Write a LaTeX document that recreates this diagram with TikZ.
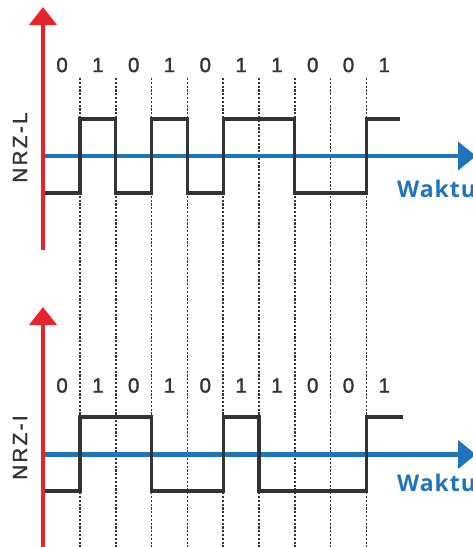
\documentclass[tikz,border=0pt]{standalone}
\usepackage{fontspec}
\setmainfont{Liberation Sans}
\newfontfamily\waktufont{Open Sans}
\usetikzlibrary{arrows.meta}
\definecolor{sigred}{HTML}{E6242A}
\definecolor{sigblue}{HTML}{1F74BD}
\definecolor{siggray}{HTML}{333333}
\tikzset{
  bitlabel/.style={font=\fontsize{20.5}{21}\selectfont\addfontfeature{FakeBold=1.6},text=siggray,inner sep=0pt},
  codelabel/.style={font=\fontsize{20.5}{21}\selectfont\addfontfeature{LetterSpace=12,FakeBold=1.6},text=siggray,rotate=90,inner sep=0pt},
  timelabel/.style={font=\waktufont\bfseries\fontsize{23}{23}\selectfont\addfontfeature{LetterSpace=4},text=sigblue,anchor=base west,inner sep=0pt},
  levelaxis/.style={sigred,line width=4pt,-{Triangle[width=27pt,length=18pt]}},
  timeaxis/.style={sigblue,line width=4.2pt,-{Triangle[width=28pt,length=18pt]}},
  signal/.style={siggray,line width=3.2pt,line join=miter},
  slotline/.style={siggray,line width=1.6pt,dash pattern=on 2.2pt off 1.6pt}
}
\begin{document}
\begin{tikzpicture}[x=1pt,y=-1pt,>=Latex]
\useasboundingbox (0,0) rectangle (472,547);
% bit boundaries, through both panels
\foreach \i in {1,...,9} \draw[slotline] ({44.2+35.8*\i},78) -- ({44.2+35.8*\i},547);
% NRZ-L
\begin{scope}
\coordinate (timL0) at (43,156); \coordinate (timL1) at (476,156);
\coordinate (levL0) at (43,250); \coordinate (levL1) at (43,7);
\draw[timeaxis] (timL0) -- (timL1);
\draw[signal] (45,193) -| (80,119) -| (115.8,193) -| (151.6,119) -| (187.4,193) -| (223.2,119) -| (294.8,193) -| (366.4,119) -- (400,119);
\draw[levelaxis] (levL0) -- (levL1);
\foreach \b [count=\i] in {0,1,0,1,0,1,1,0,0,1} \node[bitlabel] (bitL\i) at ({26.3+35.8*\i},65) {\b};
\node[codelabel] (codeL) at (20,147.5) {NRZ-L};
\node[timelabel] (timeL) at (397,197) {Waktu};
\end{scope}
% NRZ-I
\begin{scope}[shift={(0,298)}]
\coordinate (timI0) at (43,156.5); \coordinate (timI1) at (476,156.5);
\coordinate (levI0) at (43,250); \coordinate (levI1) at (43,9);
\draw[timeaxis] (timI0) -- (timI1);
\draw[signal] (45,193) -| (80,119) -| (151.6,193) -| (223.2,119) -| (259,193) -| (366.4,119) -- (403,119);
\draw[levelaxis] (levI0) -- (levI1);
\foreach \b [count=\i] in {0,1,0,1,0,1,1,0,0,1} \node[bitlabel] (bitI\i) at ({26.3+35.8*\i},87.5) {\b};
\node[codelabel] (codeI) at (20,149.5) {NRZ-I};
\node[timelabel] (timeI) at (397,193) {Waktu};
\end{scope}
\end{tikzpicture}
\end{document}
